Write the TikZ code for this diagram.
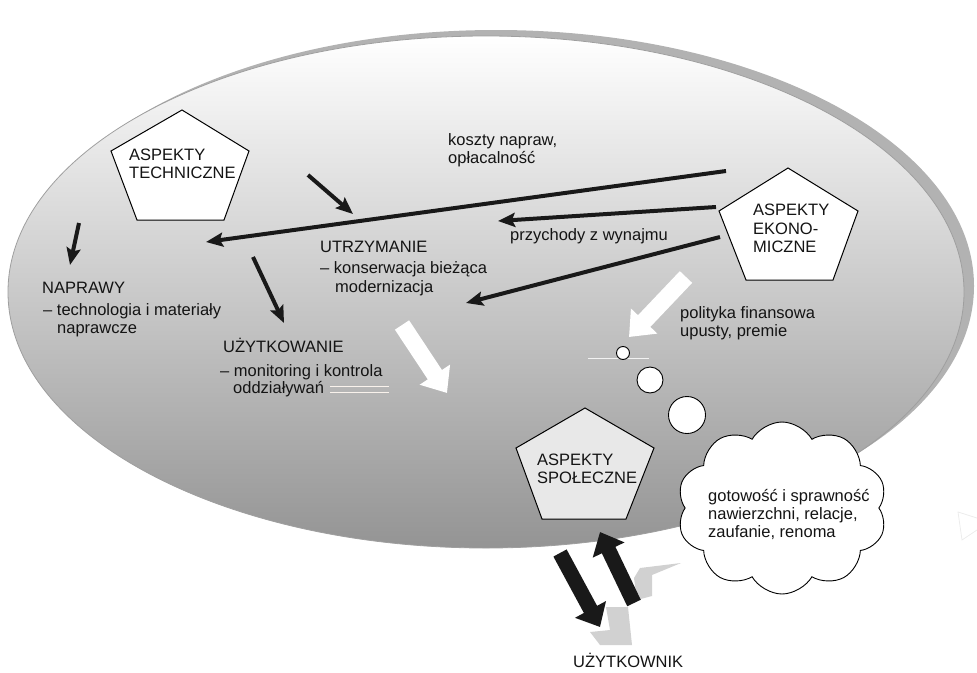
\documentclass[tikz,border=0pt]{standalone}
\usepackage{fontspec}
\setmainfont{Liberation Sans}
\usetikzlibrary{arrows.meta,shapes.symbols,shapes.geometric,calc}
\begin{document}
\begin{tikzpicture}[x=1pt,y=-1pt,
  lbl/.style={anchor=base west, inner sep=0pt, font=\fontsize{16.5}{18.5}\selectfont, text=black!92},
  conn/.style={line width=4pt, black!90, -{Stealth[length=17pt,width=14pt,inset=3pt]}},
  fatw/.style={line width=17pt, white, -{Triangle[length=22pt,width=35pt]}},
  fatb/.style={line width=15pt, black!90, -{Triangle[length=20pt,width=34pt]}},
  pent/.style={draw=black, line width=1pt, line join=miter},
  bub/.style={circle, draw=black, fill=white, line width=0.9pt, inner sep=0pt},
]
\useasboundingbox (0,0) rectangle (977,672);
% shadow and main oval
\fill[gray!60] (496,286) ellipse [x radius=478pt, y radius=256pt];
\shade[top color=white, bottom color=black!42] (486,292) ellipse [x radius=478pt, y radius=256pt];
\draw[gray!75, line width=0.8pt] (486,292) ellipse [x radius=478pt, y radius=256pt];

% faint artefact lines
\draw[gray!10, line width=0.6pt] (588,358) -- (649,358);
\draw[brown!10, line width=0.6pt] (330,386) -- (389,386) (330,392.5) -- (389,392.5);
\draw[gray!15, line width=0.8pt] (977,518) -- (958,512) -- (962,540) -- (977,530);

% pentagons
\draw[pent, fill=white] (182,110) -- (249,151) -- (224,220) -- (137,220) -- (111,151) -- cycle;
\draw[pent, fill=white] (788,168) -- (858,211) -- (833,280) -- (746,280) -- (719,211) -- cycle;
\draw[pent, fill=gray!18] (585,408) -- (654,448) -- (626,519) -- (542,519) -- (516,448) -- cycle;

% pentagon labels
\node[lbl] (tA1) at (129,160) {ASPEKTY};
\node[lbl] (tA2) at (129,178) {TECHNICZNE};
\node[lbl] (eA1) at (753,215) {ASPEKTY};
\node[lbl] (eA2) at (753,234) {EKONO-};
\node[lbl] (eA3) at (753,252) {MICZNE};
\node[lbl] (sA1) at (537,465) {ASPEKTY};
\node[lbl] (sA2) at (537,483) {SPOŁECZNE};

% other labels
\node[lbl] (k1) at (448,145) {koszty napraw,};
\node[lbl] (k2) at (448,163) {opłacalność};
\node[lbl] (p1) at (510,240) {przychody z wynajmu};
\node[lbl] (u1) at (320,252) {UTRZYMANIE};
\node[lbl] (u2) at (320,273) {– konserwacja bieżąca};
\node[lbl] (u3) at (335,292) {modernizacja};
\node[lbl] (n1) at (42,293) {NAPRAWY};
\node[lbl] (n2) at (43,315) {– technologia i materiały};
\node[lbl] (n3) at (57,333) {naprawcze};
\node[lbl] (y1) at (223,352) {UŻYTKOWANIE};
\node[lbl] (y2) at (220,376) {– monitoring i kontrola};
\node[lbl] (y3) at (233,393) {oddziaływań};
\node[lbl] (f1) at (680,318) {polityka finansowa};
\node[lbl] (f2) at (680,336) {upusty, premie};
\node[lbl] (uz) at (573,667) {UŻYTKOWNIK};

% thought bubbles
\node[bub, minimum size=13pt] (b1) at (623,353) {};
\node[bub, minimum size=26pt] (b2) at (650,380) {};
\node[bub, minimum size=37pt] (b3) at (687,415) {};
\node[cloud, cloud puffs=10, cloud puff arc=120, aspect=1.2, draw=black, fill=white, line width=0.9pt, minimum width=210pt, minimum height=172pt] (cl) at (782,508) {};
\node[lbl] (c1) at (708,501) {gotowość i sprawność};
\node[lbl] (c2) at (708,519) {nawierzchni, relacje,};
\node[lbl] (c3) at (708,537) {zaufanie, renoma};

% coordinates for connectors
\coordinate (a1) at (79,223);  \coordinate (a2) at (70,265);
\coordinate (b1s) at (308,175); \coordinate (b1e) at (353,214);
\coordinate (c1s) at (253,257); \coordinate (c1e) at (284,323);
\coordinate (d1s) at (726,171); \coordinate (d1e) at (206,242);
\coordinate (e1s) at (716,207); \coordinate (e1e) at (498,221);
\coordinate (f1s) at (720,237); \coordinate (f1e) at (466,303);
\coordinate (w1s) at (402,325); \coordinate (w1e) at (447,393);
\coordinate (w2s) at (686,277); \coordinate (w2e) at (629,337);
\coordinate (dns) at (560,553); \coordinate (dne) at (600,627);
\coordinate (ups) at (634,603); \coordinate (upe) at (600,532);

% gray shadow arrows
\fill[black!18] (637,600) -- (652,596) -- (652,575) -- (681,563) -- (640,568) -- (634,578) -- cycle;
\fill[black!18] (606,607) -- (628,607) -- (632,645) -- (600,645) -- (590,632) -- (610,630) -- cycle;

% connectors
\draw[conn] (a1) -- (a2);
\draw[conn] (b1s) -- (b1e);
\draw[conn] (c1s) -- (c1e);
\draw[conn] (d1s) -- (d1e);
\draw[conn] (e1s) -- (e1e);
\draw[conn] (f1s) -- (f1e);
\draw[fatw] (w1s) -- (w1e);
\draw[fatw] (w2s) -- (w2e);
\draw[fatb] (dns) -- (dne);
\draw[fatb] (ups) -- (upe);
\end{tikzpicture}
\end{document}
